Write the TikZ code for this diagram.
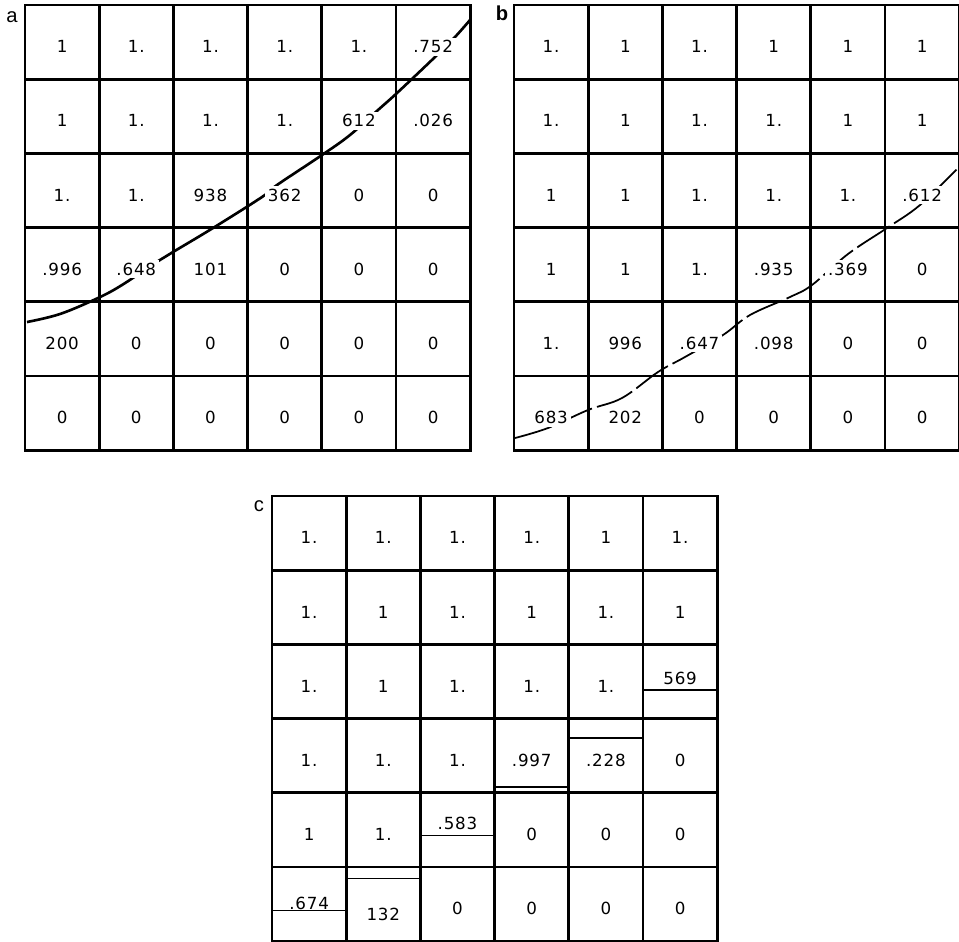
\documentclass[tikz,border=0pt]{standalone}
\usepackage{fontspec}
\setmainfont{Liberation Sans}
\newfontfamily\cellfont[LetterSpace=5]{DejaVu Sans}
\usepackage{xcolor}
\usepackage{tikz}
\usetikzlibrary{positioning}
\tikzset{
  grid-line/.style={draw=black,line width=1.6pt,line cap=rect},
  cell-val/.style={font=\cellfont\fontsize{9.5}{11}\selectfont,
    inner sep=1.5pt,fill=white},
  panel-label/.style={font=\fontsize{11.5}{13}\selectfont,inner sep=0pt},
  contour-a/.style={draw=black,line width=1.5pt},
  contour-b/.style={draw=black,line width=1pt,dash pattern=on 22pt off 3pt},
  level-line/.style={draw=black,line width=0.7pt},
  % values in panel c that sit off the cell middle
  shift-c-3-6/.style={yshift=4.5pt},
  shift-c-5-3/.style={yshift=6.2pt},
  shift-c-6-1/.style={yshift=2.8pt},
  shift-c-6-2/.style={yshift=-3.4pt},
}
% #1 panel name, #2/#3 top left corner, #4 rows of values
\newcommand\cellgrid[4]{%
  \foreach \k in {0,...,6} {
    \draw[grid-line] (#2+\k*74.2,#3) -- (#2+\k*74.2,#3+445.2);
    \draw[grid-line] (#2,#3+\k*74.2) -- (#2+445.2,#3+\k*74.2);
  }
  \foreach \row [count=\r] in {#4} {
    \foreach \v [count=\c] in \row
      \node[cell-val,shift-#1-\r-\c/.try] (#1-\r-\c)
        at (#2+\c*74.2-37.1,#3+\r*74.2-32.5) {\v};
  }
}

\begin{document}
\begin{tikzpicture}[x=0.02cm,y=-0.02cm]
  \useasboundingbox (0,0) rectangle (959,941);
  % interface lines first, the values cut them
  \draw[contour-a] plot[smooth,tension=0.6] coordinates {(27,322) (60,314)
    (98,298) (122,285) (155,263) (173,252) (213,228) (262,197) (277,185)
    (322,155) (350,135) (378,110) (397,93) (435,57) (455,37) (470,20)};
  \draw[contour-b] plot[smooth,tension=0.6] coordinates {(515,438) (548,428)
    (588,410) (622,398) (658,372) (685,357) (723,335) (750,315) (790,297)
    (812,285) (848,254) (887,228) (920,205) (958,168)};
  \cellgrid{a}{25}{5}{{1,1.,1.,1.,1.,.752},{1,1.,1.,1.,612,.026},
    {1.,1.,938,362,0,0},{.996,.648,101,0,0,0},{200,0,0,0,0,0},{0,0,0,0,0,0}}
  \cellgrid{b}{514}{5}{{1.,1,1.,1,1,1},{1.,1,1.,1.,1,1},{1,1,1.,1.,1.,.612},
    {1,1,1.,.935,.369,0},{1.,996,.647,.098,0,0},{683,202,0,0,0,0}}
  \cellgrid{c}{272}{496}{{1.,1.,1.,1.,1,1.},{1.,1,1.,1,1.,1},{1.,1,1.,1.,1.,569},
    {1.,1.,1.,.997,.228,0},{1,1.,.583,0,0,0},{.674,132,0,0,0,0}}
  \foreach \r/\c/\f in {3/6/.615,4/5/.26,4/4/.92,5/3/.58,6/2/.15,6/1/.59}
    \draw[level-line] (198.8+\c*74.2,421.8+\r*74.2+\f*74.2) -- ++(74.2,0);
  \node[panel-label] (lbl-a) at (12,17) {a};
  \node[panel-label,font=\bfseries\fontsize{11.5}{13}\selectfont] (lbl-b) at (502,13) {b};
  \node[panel-label] (lbl-c) at (259,506) {c};
\end{tikzpicture}
\end{document}
